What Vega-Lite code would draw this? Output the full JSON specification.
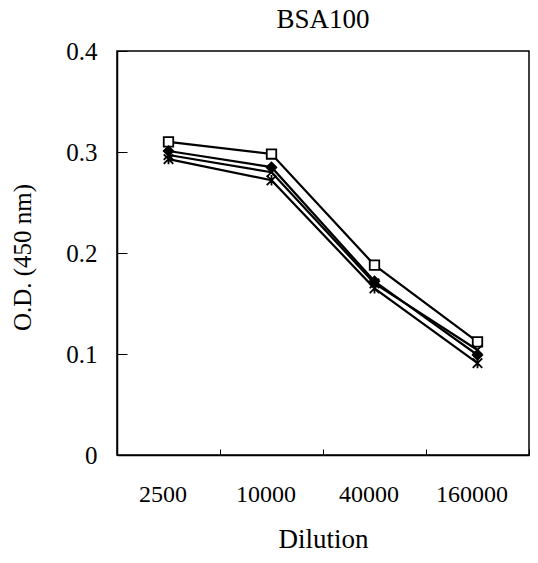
{
  "$schema": "https://vega.github.io/schema/vega-lite/v6.json",
  "autosize": "none",
  "width": 412,
  "height": 404,
  "padding": {"left": 117, "top": 51, "right": 9, "bottom": 108},
  "background": "white",
  "config": {
    "font": "Liberation Serif",
    "view": {"stroke": "black", "strokeWidth": 1.5},
    "axis": {"domainColor": "black", "tickColor": "black", "labelColor": "black", "titleColor": "black", "grid": false, "labelFont": "Liberation Serif", "titleFont": "Liberation Serif", "titleFontWeight": "normal"}
  },
  "title": {"text": "BSA100", "fontSize": 27, "fontWeight": "normal", "font": "Liberation Serif", "color": "black", "offset": 5, "anchor": "middle"},
  "data": {
    "values": [
      {"dilution": "2500", "series": "A", "od": 0.310},
      {"dilution": "10000", "series": "A", "od": 0.298},
      {"dilution": "40000", "series": "A", "od": 0.188},
      {"dilution": "160000", "series": "A", "od": 0.112},
      {"dilution": "2500", "series": "B", "od": 0.301},
      {"dilution": "10000", "series": "B", "od": 0.285},
      {"dilution": "40000", "series": "B", "od": 0.172},
      {"dilution": "160000", "series": "B", "od": 0.099},
      {"dilution": "2500", "series": "C", "od": 0.297},
      {"dilution": "10000", "series": "C", "od": 0.280},
      {"dilution": "40000", "series": "C", "od": 0.170},
      {"dilution": "160000", "series": "C", "od": 0.104},
      {"dilution": "2500", "series": "D", "od": 0.293},
      {"dilution": "10000", "series": "D", "od": 0.272},
      {"dilution": "40000", "series": "D", "od": 0.165},
      {"dilution": "160000", "series": "D", "od": 0.091}
    ]
  },
  "encoding": {
    "x": {
      "field": "dilution", "type": "ordinal",
      "sort": ["2500", "10000", "40000", "160000"],
      "scale": {"type": "band", "paddingInner": 0, "paddingOuter": 0},
      "axis": {"title": "Dilution", "labelAngle": 0, "labelFontSize": 24, "titleFontSize": 27, "tickBand": "extent", "tickSize": -6, "labelPadding": 33, "labelOffset": -6, "titleX": 206, "titleY": 84, "titleBaseline": "middle", "domainWidth": 1.5}
    },
    "y": {
      "field": "od", "type": "quantitative",
      "scale": {"domain": [0, 0.4], "nice": false},
      "axis": {"title": "O.D. (450 nm)", "values": [0, 0.1, 0.2, 0.3, 0.4], "format": ".1~f", "labelFontSize": 25, "titleFontSize": 25, "tickSize": -10, "labelPadding": 30, "titleX": -95, "titleY": 206, "titleAngle": -90, "titleAlign": "center", "titleBaseline": "middle", "domainWidth": 1.5}
    }
  },
  "layer": [
    {
      "mark": {"type": "line", "color": "black", "strokeWidth": 2.2},
      "encoding": {"detail": {"field": "series"}}
    },
    {
      "mark": {"type": "point", "size": 90, "strokeWidth": 1.8, "stroke": "black", "opacity": 1},
      "encoding": {
        "shape": {"field": "series", "legend": null, "scale": {"domain": ["A", "B", "C", "D"], "range": ["square", "diamond", "M-1,-1L1,1M1,-1L-1,1", "M-1,-1L1,1M1,-1L-1,1M0,-1.1L0,1.1"]}},
        "fill": {"field": "series", "legend": null, "scale": {"domain": ["A", "B", "C", "D"], "range": ["white", "black", "transparent", "transparent"]}}
      }
    }
  ]
}
